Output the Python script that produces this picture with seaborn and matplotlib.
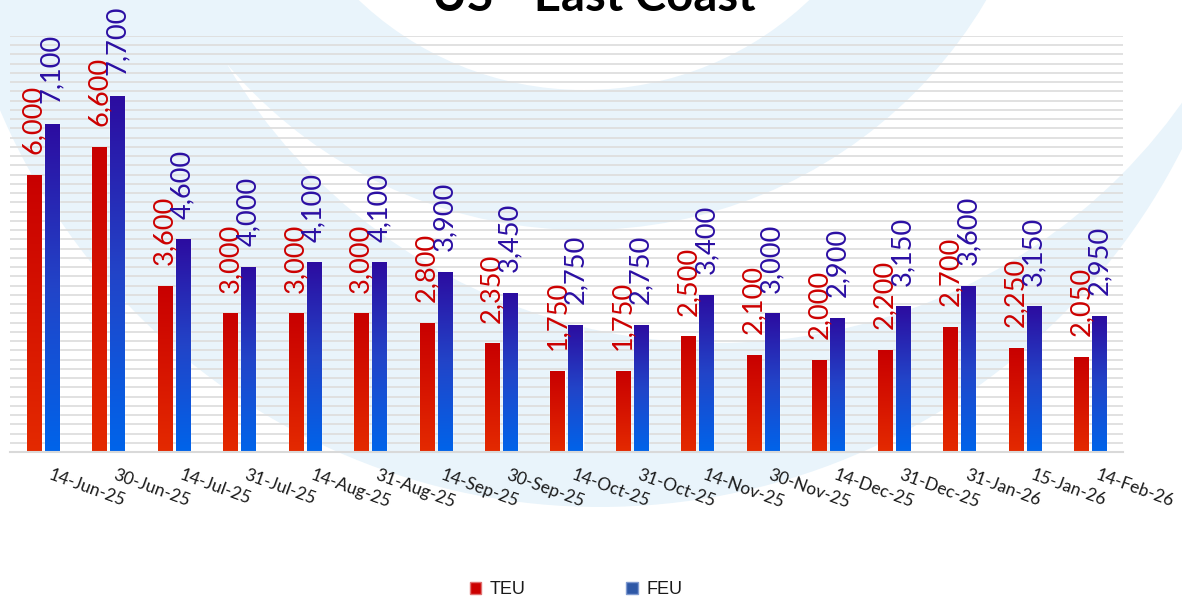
import numpy as np
import pandas as pd
import matplotlib
matplotlib.use('Agg')
import matplotlib.pyplot as plt
import seaborn as sns
from matplotlib.colors import LinearSegmentedColormap
from matplotlib.patches import Circle, Patch
from matplotlib.transforms import ScaledTranslation

# ── Datos ─────────────────────────────────────────────
TITULO = 'US - East Coast'
fechas = ['14-Jun-25', '30-Jun-25', '14-Jul-25', '31-Jul-25', '14-Aug-25',
          '31-Aug-25', '14-Sep-25', '30-Sep-25', '14-Oct-25', '31-Oct-25',
          '14-Nov-25', '30-Nov-25', '14-Dec-25', '31-Dec-25', '31-Jan-26',
          '15-Jan-26', '14-Feb-26']
teu = [6000, 6600, 3600, 3000, 3000, 3000, 2800, 2350, 1750, 1750,
       2500, 2100, 2000, 2200, 2700, 2250, 2050]
feu = [7100, 7700, 4600, 4000, 4100, 4100, 3900, 3450, 2750, 2750,
       3400, 3000, 2900, 3150, 3600, 3150, 2950]
SERIES = ['TEU', 'FEU']

sns.set_style('white')
plt.rcParams['font.family'] = ['Lato', 'DejaVu Sans']

df = pd.DataFrame({
    'fecha': fechas * 2,
    'valor': teu + feu,
    'tipo': ['TEU'] * len(teu) + ['FEU'] * len(feu),
})

W, H = 1182, 598
fig = plt.figure(figsize=(W / 100, H / 100), dpi=100)
fig.patch.set_facecolor('white')

# ── Marca de agua (arcos azul claro) ───────────────────
bg = fig.add_axes([0, 0, 1, 1], zorder=0)
bg.set_xlim(0, W)
bg.set_ylim(H, 0)
bg.axis('off')
AZUL_CLARO = '#E9F4FB'
for cx, cy, r, col in [(600, -145, 652, AZUL_CLARO),
                       (717, -227, 570, 'white'),
                       (584, -237, 467, AZUL_CLARO),
                       (584, -237, 327, 'white')]:
    bg.add_patch(Circle((cx, cy), r, facecolor=col, edgecolor='none'))

# ── Barras ────────────────────────────────────────────
ax = fig.add_axes([10 / W, 1 - 452 / H, 1113 / W, 416 / H], zorder=1)
ax.patch.set_alpha(0)
sns.barplot(data=df, x='fecha', y='valor', hue='tipo', hue_order=SERIES,
            palette={'TEU': '#D41000', 'FEU': '#1A3EC8'},
            width=0.55, gap=0.22, errorbar=None, legend=False, ax=ax, zorder=2)

# degradado vertical en cada barra
grad = {
    'TEU': LinearSegmentedColormap.from_list('teu', ['#E42A00', '#D61400', '#C80000']),
    'FEU': LinearSegmentedColormap.from_list('feu', ['#0064EA', '#2244C8', '#2C0CA0']),
}
g = np.linspace(0, 1, 256).reshape(-1, 1)
for cont, serie in zip(ax.containers, SERIES):
    for bar in cont:
        x0, w, h = bar.get_x(), bar.get_width(), bar.get_height()
        im = ax.imshow(g, cmap=grad[serie], extent=[x0, x0 + w, 0, h],
                       origin='lower', aspect='auto', zorder=2.5)
        im.set_clip_path(bar)

ax.set_xlim(-0.5, len(fechas) - 0.5)
ax.set_ylim(0, 9000)

# etiquetas de datos
ax.bar_label(ax.containers[0], labels=[f'{v:,}' for v in teu], rotation=90,
             padding=15, color='#CC0000', fontsize=19.5)
ax.bar_label(ax.containers[1], labels=[f'{v:,}' for v in feu], rotation=90,
             padding=15, color='#2B0FA3', fontsize=19.5)

# rejilla y ejes
ax.set_axisbelow(True)
ax.set_yticks(np.arange(200, 9001, 200))
ax.yaxis.grid(True, color='#DEDEDE', linewidth=1.3)
ax.tick_params(axis='y', length=0, labelleft=False)
for s in ['top', 'left', 'right']:
    ax.spines[s].set_visible(False)
ax.spines['bottom'].set_color('#D9D9D9')
ax.spines['bottom'].set_linewidth(1.5)

ax.set_xticks(range(len(fechas)))
ax.set_xticklabels(fechas, rotation=-20, ha='left', va='top',
                   rotation_mode='anchor', fontsize=12.5, color='#1a1a1a')
ax.tick_params(axis='x', which='major', length=0, pad=11)
ax.set_xticks(np.arange(-0.5, len(fechas), 1), minor=True)
ax.tick_params(axis='x', which='minor', length=5, width=1.5, color='#D9D9D9')
for lbl in ax.get_xticklabels():
    lbl.set_transform(lbl.get_transform() + ScaledTranslation(0.09, 0, fig.dpi_scale_trans))
ax.set_xlabel('')
ax.set_ylabel('')

# título (cortado arriba, como en el original)
fig.text(0.5025, 1 - 11 / H, TITULO, ha='center', va='baseline',
         fontsize=34, fontweight='bold', color='black')

# leyenda
handles = [Patch(facecolor='#CC0000', edgecolor='#E07070'),
           Patch(facecolor='#2E58A6', edgecolor='#7F9AD0')]
fig.legend(handles=handles, labels=SERIES, loc='center',
           bbox_to_anchor=(576 / W, 1 - 590 / H), ncol=2, frameon=False,
           handlelength=0.65, handleheight=0.65, handletextpad=0.45,
           columnspacing=5.6, prop={'family': 'Liberation Sans', 'size': 13},
           labelcolor='#1a1a1a')

fig.savefig('out.png', dpi=100)
